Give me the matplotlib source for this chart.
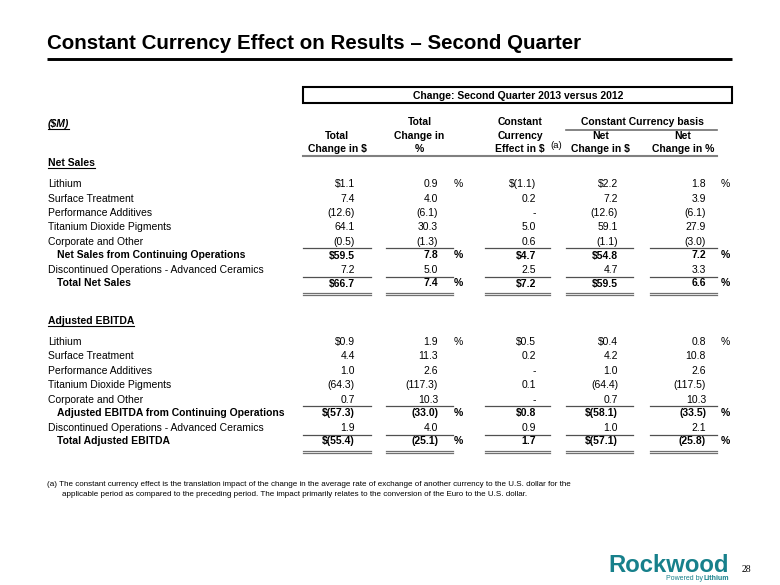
import matplotlib
matplotlib.use("Agg")
import matplotlib.pyplot as plt
from matplotlib.patches import Rectangle

plt.rcParams["font.family"] = ["Liberation Sans", "DejaVu Sans"]

# ---- data (as printed on the slide) ----
sales_labels = ["Lithium", "Surface Treatment", "Performance Additives",
                "Titanium Dioxide Pigments", "Corporate and Other",
                "Net Sales from Continuing Operations",
                "Discontinued Operations - Advanced Ceramics", "Total Net Sales"]
sales_total_usd = ["$1.1", "7.4", "(12.6)", "64.1", "(0.5)", "$59.5", "7.2", "$66.7"]
sales_total_pct = ["0.9", "4.0", "(6.1)", "30.3", "(1.3)", "7.8", "5.0", "7.4"]
sales_fx = ["$(1.1)", "0.2", "-", "5.0", "0.6", "$4.7", "2.5", "$7.2"]
sales_net_usd = ["$2.2", "7.2", "(12.6)", "59.1", "(1.1)", "$54.8", "4.7", "$59.5"]
sales_net_pct = ["1.8", "3.9", "(6.1)", "27.9", "(3.0)", "7.2", "3.3", "6.6"]

ebitda_labels = ["Lithium", "Surface Treatment", "Performance Additives",
                 "Titanium Dioxide Pigments", "Corporate and Other",
                 "Adjusted EBITDA from Continuing Operations",
                 "Discontinued Operations - Advanced Ceramics", "Total Adjusted EBITDA"]
ebitda_total_usd = ["$0.9", "4.4", "1.0", "(64.3)", "0.7", "$(57.3)", "1.9", "$(55.4)"]
ebitda_total_pct = ["1.9", "11.3", "2.6", "(117.3)", "10.3", "(33.0)", "4.0", "(25.1)"]
ebitda_fx = ["$0.5", "0.2", "-", "0.1", "-", "$0.8", "0.9", "1.7"]
ebitda_net_usd = ["$0.4", "4.2", "1.0", "(64.4)", "0.7", "$(58.1)", "1.0", "$(57.1)"]
ebitda_net_pct = ["0.8", "10.8", "2.6", "(117.5)", "10.3", "(33.5)", "2.1", "(25.8)"]

bold_rows = [5, 7]
pct_rows = [0, 5, 7]

title = "Constant Currency Effect on Results \u2013 Second Quarter"
box_title = "Change: Second Quarter 2013 versus 2012"
footnote = ["(a) The constant currency effect is the translation impact of the change in the average rate of exchange of another currency to the U.S. dollar for the",
            "applicable period as compared to the preceding period. The impact primarily relates to the conversion of the Euro to the U.S. dollar."]

# ---- layout (pixel coords of a 780x585 slide) ----
fs = 7.5
col_right = [355, 438, 536, 618, 706]
col_span = [(303, 371), (386, 453), (485, 550), (566, 633), (650, 717)]
pct_x = [454, 721]
row_off = [0, 14.4, 28.7, 43.0, 57.7, 71.4, 86.0, 99.4]
lbl_x, lbl_indent = 48, 57

fig = plt.figure(figsize=(7.8, 5.85), dpi=100)
ax = fig.add_axes([0, 0, 1, 1])
ax.set_xlim(0, 780)
ax.set_ylim(585, 0)
ax.axis("off")

underline_items = []

# title
ax.text(47, 49.3, title, fontsize=14.8, fontweight="bold", va="baseline")
ax.plot([47, 732], [58.7, 58.7], color="black", lw=2.1, solid_capstyle="butt")

# boxed heading
ax.add_patch(Rectangle((302.7, 87.3), 429, 15.4, fill=False, ec="black", lw=1.5))
ax.text(518, 98.8, box_title, fontsize=fs, fontweight="bold", ha="center", va="baseline")

# column headers
t = ax.text(lbl_x, 127, "($M)", fontsize=fs, fontweight="bold", style="italic", va="baseline")
underline_items.append(t)
hdr = [(337, ["", "Total", "Change in $"]),
       (419.5, ["Total", "Change in", "%"]),
       (520, ["Constant", "Currency", "Effect in $"]),
       (600.5, ["", "Net", "Change in $"]),
       (683, ["", "Net", "Change in %"])]
for cx, lines in hdr:
    for k, s in enumerate(lines):
        if s:
            ax.text(cx, 125.4 + 13.3 * k, s, fontsize=fs, fontweight="bold", ha="center", va="baseline")
ax.text(550.5, 147.5, "(a)", fontsize=6.8, va="baseline")
ax.text(642, 125.4, "Constant Currency basis", fontsize=fs, fontweight="bold", ha="center", va="baseline")
ax.plot([566, 717], [129.6, 129.6], color="#707070", lw=1.2)
ax.plot([303, 717], [156.3, 156.3], color="#808080", lw=1.5)


def section(y0, head, labels, cols):
    t = ax.text(lbl_x, y0 - 21 + 3.7, head, fontsize=fs, fontweight="bold", va="baseline")
    underline_items.append(t)
    for i, lab in enumerate(labels):
        yb = y0 + row_off[i] + 3.7
        w = "bold" if i in bold_rows else "normal"
        ax.text(lbl_indent if i in bold_rows else lbl_x, yb, lab, fontsize=fs, fontweight=w, va="baseline")
        for c, vals in enumerate(cols):
            ax.text(col_right[c], yb, vals[i], fontsize=fs, fontweight=w, ha="right", va="baseline")
        if i in pct_rows:
            for px in pct_x:
                ax.text(px, yb, "%", fontsize=fs, fontweight=w, va="baseline")
    for a, b in col_span:
        ax.plot([a, b], [y0 + 64.3] * 2, color="#505050", lw=0.9)
        ax.plot([a, b], [y0 + 93.3] * 2, color="#505050", lw=0.9)
        ax.plot([a, b], [y0 + 109.2] * 2, color="#707070", lw=0.9)
        ax.plot([a, b], [y0 + 111.5] * 2, color="#707070", lw=0.9)


section(183.4, "Net Sales", sales_labels,
        [sales_total_usd, sales_total_pct, sales_fx, sales_net_usd, sales_net_pct])
section(341.4, "Adjusted EBITDA", ebitda_labels,
        [ebitda_total_usd, ebitda_total_pct, ebitda_fx, ebitda_net_usd, ebitda_net_pct])

# footnote
ax.text(47.3, 486, footnote[0], fontsize=5.8, va="baseline")
ax.text(61.7, 496.5, footnote[1], fontsize=5.8, va="baseline")

# logo and page number
teal = "#17808b"
ax.text(728.5, 572, "Rockwood", fontsize=17.2, fontweight="bold", color=teal, ha="right", va="baseline")
lt = ax.text(729, 580.5, "Lithium", fontsize=5, fontweight="bold", color=teal, ha="right", va="baseline")
ax.text(742, 572.5, "28", fontsize=7, family="Liberation Serif", va="baseline")

fig.canvas.draw()
r = fig.canvas.get_renderer()
inv = ax.transData.inverted()
for t in underline_items:
    bb = t.get_window_extent(r)
    (x0, _), (x1, _) = inv.transform([[bb.x0, bb.y0], [bb.x1, bb.y1]])
    yb = t.get_position()[1] + 1.8
    ax.plot([x0, x1], [yb, yb], color="black", lw=0.8)
bb = lt.get_window_extent(r)
lx = inv.transform([[bb.x0, bb.y0]])[0][0]
ax.text(lx - 1, 580.5, "Powered by", fontsize=5, color=teal, ha="right", va="baseline")

fig.savefig("out.png", dpi=100)
